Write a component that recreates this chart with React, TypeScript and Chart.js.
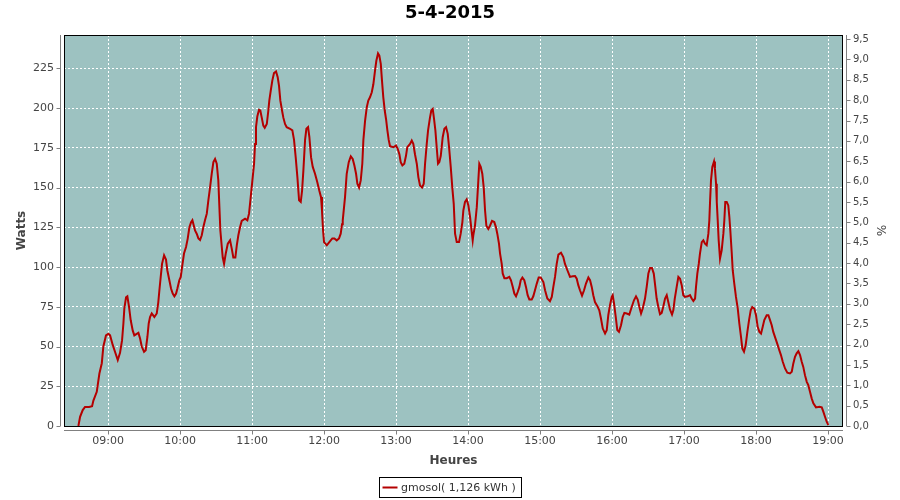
import React, { useEffect, useRef } from "react";
import { Chart, registerables } from "chart.js";

Chart.register(...registerables);

const chartTitle = "5-4-2015";
const seriesLabel = "gmosol( 1,126 kWh )";
const xTitle = "Heures";
const yTitle = "Watts";
const y2Title = "%";

// time in minutes after midnight
const times = [
  515.3, 516.7, 518.9, 520.8, 524.2, 526.7, 527.8, 530.6, 532.8, 534.8, 536.1, 538.3, 540.3, 541.7, 543.9, 545.8, 548.1, 550, 551.7, 552.8,
  553.6, 555, 556.1, 557.5, 558.9, 560.6, 561.9, 563.9, 565.3, 566.7, 568.1, 570, 571.4, 572.8, 573.9, 575, 576.4, 578.6, 580.6, 581.9,
  582.8, 583.9, 585, 586.7, 588.3, 589.4, 591.1, 592.5, 593.9, 595.3, 596.7, 597.8, 599.4, 600.6, 601.7, 603.3, 605, 606.4, 607.8, 609.2,
  610.3, 612.5, 613.9, 615.3, 616.7, 618.1, 619.4, 620.8, 622.3, 623.6, 625, 626.4, 627.8, 629.2, 630.6, 631.9, 632.8, 633.6, 634.8, 635.6,
  636.7, 638.1, 639.8, 641.7, 643.1, 644.4, 646.1, 647.3, 648.6, 650, 651.4, 654.2, 656.1, 657.5, 658.9, 660.3, 661.7, 662.5, 663.3, 664.4,
  665.8, 666.9, 668.1, 669.4, 670.6, 672.3, 673.6, 674.4, 675.6, 676.9, 678.3, 680, 681.4, 682.5, 683.6, 685, 686.1, 687.5, 688.9, 691.7,
  693.6, 695, 696.4, 697.8, 699.2, 700.6, 701.7, 702.8, 704.2, 705.3, 706.7, 707.8, 709.2, 710.6, 712.5, 714.4, 716.1, 717.5, 718.3, 719.2,
  720, 722.3, 724.4, 726.9, 728.6, 730.6, 732.5, 733.9, 735, 735.6, 737.5, 738.9, 740.6, 742.3, 743.9, 745.3, 746.7, 747.8, 749.2, 750.6,
  751.9, 752.8, 754.2, 755.6, 756.9, 758.3, 759.8, 761.1, 762.5, 763.6, 765, 766.1, 767.3, 768.3, 769.4, 770.6, 771.7, 772.8, 773.9, 775,
  777.8, 780, 781.4, 782.8, 783.9, 785.3, 786.9, 788.3, 789.4, 791.7, 793.1, 794.4, 795.8, 797.3, 798.6, 800, 801.7, 803.1, 804.2, 805.6,
  806.7, 808.3, 809.4, 810.6, 811.7, 812.8, 813.9, 815, 816.1, 817.3, 818.9, 820.3, 821.7, 823.1, 824.2, 825.6, 826.9, 828.1, 829.2, 830.6,
  832.5, 833.9, 835.3, 836.1, 837.5, 838.9, 840.3, 841.7, 843.1, 843.9, 844.4, 845.8, 847.3, 848.6, 849.4, 850.6, 851.9, 853.1, 854.2, 855.3,
  856.9, 858.3, 860, 861.9, 863.3, 864.4, 865.8, 866.7, 868.1, 868.9, 870.3, 872.3, 874.4, 875.8, 877.3, 878.6, 880, 881.4, 882.8, 883.9,
  885.3, 886.9, 888.3, 889.7, 891.1, 893.1, 894.4, 895.8, 897.3, 898.9, 900.6, 902.8, 904.2, 906.1, 908.3, 909.8, 911.1, 912.5, 913.9, 915.3,
  917.5, 919.4, 920.8, 922.8, 925, 927.3, 929.2, 930.6, 931.9, 933.3, 935, 936.7, 938.3, 940.3, 941.7, 943.1, 944.4, 945.8, 947.8, 949.4,
  950.8, 952.3, 954.2, 955.6, 956.9, 958.3, 959.8, 960.6, 961.7, 963.1, 964.4, 965.8, 967.5, 968.9, 970.3, 972.3, 974.4, 976.4, 978.3, 980,
  981.4, 982.8, 984.2, 985.6, 987.5, 988.9, 990.3, 991.7, 993.3, 994.8, 996.1, 997.2, 998.6, 1000, 1001.4, 1002.8, 1004.2, 1005.6, 1006.9, 1008.3,
  1010, 1011.1, 1012.3, 1013.9, 1015.3, 1016.7, 1018.1, 1019.4, 1020.8, 1023.1, 1025, 1026.4, 1027.8, 1029.2, 1030, 1031.1, 1032.3, 1033.3, 1034.8, 1036.1,
  1037.5, 1038.9, 1040.3, 1041.1, 1041.7, 1042.5, 1043.6, 1045, 1045.8, 1046.7, 1047.3, 1048.1, 1048.9, 1050, 1051.4, 1052.8, 1053.6, 1054.4, 1055.6, 1056.9,
  1057.8, 1058.6, 1059.8, 1060.6, 1061.9, 1063.3, 1064.8, 1066.1, 1067.5, 1068.6, 1070, 1071.4, 1072.8, 1074.2, 1075.6, 1076.9, 1078.6, 1080, 1081.4, 1082.8,
  1084.2, 1085.6, 1086.9, 1088.9, 1090.3, 1091.7, 1093.1, 1094.4, 1096.7, 1098.1, 1099.4, 1100.8, 1102.3, 1104.2, 1106.1, 1108.3, 1109.8, 1111.1, 1112.5, 1113.9,
  1115.3, 1116.7, 1118.1, 1119.4, 1120.8, 1122.3, 1123.6, 1125, 1126.4, 1127.8, 1130, 1132.8, 1134.8, 1136.1, 1137.5, 1138.9, 1140.3,
];

const watts = [
  0, 5.8, 10, 12, 12, 12.5, 16, 21.5, 33, 39.5, 50, 57, 58, 57, 51, 46.7, 41.5, 46, 54, 64.5,
  74, 81, 81.6, 75, 66.5, 60, 57, 58, 58.6, 55, 50, 46.7, 47.7, 56, 64.5, 68.6, 70.8, 68.6, 70.8, 78,
  85.4, 93.8, 102, 107.4, 104.7, 98, 91.7, 86.5, 83.3, 81.6, 83.3, 86.5, 91.7, 93.8, 100, 108.5, 112.6, 117.9, 125, 128.3,
  129.5, 123, 121, 118, 117, 120, 125, 129.4, 133.6, 142, 150, 158.7, 166, 168, 165, 154.5, 137.7, 123, 112.6, 106,
  102, 108.5, 114.7, 116.8, 111.6, 106, 106, 113.7, 120, 125, 129, 130.4, 129.4, 133.6, 144, 154.5, 165, 177.5, 188, 194.7,
  198.9, 198.5, 194, 189, 187.6, 190, 198.5, 204.7, 211, 217.3, 222, 223, 219.4, 214, 204.7, 198.5, 194, 190, 188, 187,
  186, 180, 169, 156.6, 142, 141, 148, 160.8, 180, 187, 188, 181.7, 169, 163, 158.7, 153.4, 148, 144, 135.6, 123,
  115.7, 113.7, 115.7, 118, 118, 116.8, 118, 121, 127, 129.4, 144, 158.7, 166, 169.6, 168, 163.9, 158.7, 152.4, 150, 154.5,
  165, 180, 192, 200.5, 204.7, 206.8, 210, 215, 223.6, 229.8, 234.4, 233, 227.8, 217.3, 206.8, 198.5, 193, 186, 180, 176,
  175.4, 176.5, 174.4, 171, 166, 163.9, 165, 170, 175.4, 177.5, 179.6, 177.5, 171, 165, 156.6, 151.3, 150, 152.4, 165, 177.5,
  186, 194, 198.5, 199.5, 193, 186, 175.4, 165, 166, 170, 181.7, 187, 188, 183.8, 175.4, 163, 150, 139.8, 121, 115.7,
  115.7, 121, 128.3, 135.6, 141, 142.6, 138.8, 131.5, 122, 116.8, 120, 126, 137.7, 154.5, 165, 163, 158.7, 150, 135.6, 126,
  124, 126, 129, 128.3, 125, 121, 114.7, 108.5, 102, 96, 93, 93, 93.8, 91.7, 87.5, 83.3, 81.6, 84.3, 87.5, 91.7,
  93.4, 91.7, 87.5, 82.3, 79.6, 79.6, 81.6, 85.4, 89.6, 93.4, 93.4, 90.6, 85.4, 80.2, 78.5, 81.2, 87.5, 93.8, 102, 107.8,
  109, 106.3, 102, 98, 93.8, 94.2, 94.4, 92.7, 88.6, 85.4, 82, 85.4, 89.6, 93.4, 91.7, 87.5, 82.3, 78, 75.4, 72.8,
  67.6, 61.3, 58.2, 60.3, 69.7, 76, 81.2, 82.3, 77, 68.6, 60.3, 59.2, 63.4, 68.6, 71.2, 70.8, 70.1, 74.9, 79.1, 81.6,
  79.6, 74.9, 70.8, 73.9, 80.2, 87.5, 95.9, 99.4, 99.4, 95.9, 87.5, 80.2, 74.9, 70.3, 71.2, 75.4, 80.2, 82.3, 78, 73.3,
  70.1, 72.8, 80.2, 87.5, 93.8, 92.7, 88.6, 82.3, 81.2, 81.6, 82.3, 80.2, 78.7, 80.2, 87.5, 95.9, 102, 108.5, 115.7, 116.8,
  114.7, 113.7, 121, 129.4, 141, 154.5, 163, 166.4, 161.8, 152.4, 141, 129.4, 116.8, 105.3, 110.5, 121, 129.4, 141, 141, 138.8,
  131.5, 123, 108.5, 98, 89.6, 81.2, 73.9, 64.5, 56.1, 48.8, 46.7, 50.9, 59.2, 66.6, 72.8, 74.9, 73.9, 69.7, 62.4, 59.2,
  58.2, 62.4, 66.6, 69.7, 69.7, 66.6, 63.4, 59.2, 54, 50.9, 47.7, 44.6, 40.4, 36.2, 33.5, 33.1, 34.1, 39.4, 43.5, 45.7,
  47.1, 44.6, 40.4, 37.2, 32, 27.8, 25.7, 21.5, 17.4, 14.3, 11.7, 12.1, 11.7, 9, 5.8, 2.7, 0.6,
];

const hourTicks = [540, 600, 660, 720, 780, 840, 900, 960, 1020, 1080, 1140];
const hourLabels = ["09:00", "10:00", "11:00", "12:00", "13:00", "14:00", "15:00", "16:00", "17:00", "18:00", "19:00"];
const wattTicks = [0, 25, 50, 75, 100, 125, 150, 175, 200, 225];
const pctTicks = [0, 0.5, 1, 1.5, 2, 2.5, 3, 3.5, 4, 4.5, 5, 5.5, 6, 6.5, 7, 7.5, 8, 8.5, 9, 9.5];
const pctLabels = ["0,0", "0,5", "1,0", "1,5", "2,0", "2,5", "3,0", "3,5", "4,0", "4,5", "5,0", "5,5", "6,0", "6,5", "7,0", "7,5", "8,0", "8,5", "9,0", "9,5"];

const X_MIN = 503.3;
const X_MAX = 1152.5;
const Y_MAX = 246;
const Y2_MAX = 9.6;

const FONT = "'DejaVu Sans', sans-serif";
const PLOT_BG = "#9dc2c1";
const LINE_COLOR = "#b40000";
const AXIS_GREY = "#808080";
const TEXT_GREY = "#444444";

const framePlugin = {
  id: "frame",
  beforeDraw(chart: any) {
    const { ctx, chartArea: a } = chart;
    ctx.save();
    ctx.fillStyle = "#ffffff";
    ctx.fillRect(0, 0, chart.width, chart.height);
    ctx.fillStyle = PLOT_BG;
    ctx.fillRect(a.left, a.top, a.right - a.left, a.bottom - a.top);
    ctx.restore();
  },
  afterDatasetsDraw(chart: any) {
    const { ctx, chartArea: a, scales } = chart;
    ctx.save();
    // plot frame
    ctx.strokeStyle = "#000";
    ctx.lineWidth = 1;
    ctx.strokeRect(a.left + 0.5, a.top + 0.5, a.right - a.left - 1, a.bottom - a.top);
    // offset axis lines
    ctx.strokeStyle = AXIS_GREY;
    ctx.beginPath();
    const lx = a.left - 3.5;
    ctx.moveTo(lx, a.top);
    ctx.lineTo(lx, a.bottom);
    for (const t of scales.y.ticks) {
      const p = Math.round(scales.y.getPixelForValue(t.value)) + 0.5;
      ctx.moveTo(lx - 4, p);
      ctx.lineTo(lx, p);
    }
    const rx = a.right + 3.5;
    ctx.moveTo(rx, a.top);
    ctx.lineTo(rx, a.bottom);
    for (const t of scales.y1.ticks) {
      const p = Math.round(scales.y1.getPixelForValue(t.value)) + 0.5;
      ctx.moveTo(rx, p);
      ctx.lineTo(rx + 4, p);
    }
    const by = a.bottom + 4.5;
    ctx.moveTo(a.left, by);
    ctx.lineTo(a.right, by);
    for (const t of scales.x.ticks) {
      const p = Math.round(scales.x.getPixelForValue(t.value)) + 0.5;
      ctx.moveTo(p, by);
      ctx.lineTo(p, by + 4);
    }
    ctx.stroke();
    ctx.restore();
  },
  afterDraw(chart: any) {
    const { ctx } = chart;
    ctx.save();
    ctx.font = "11px " + FONT;
    const tw = ctx.measureText(seriesLabel).width;
    const w = Math.round(3 + 15 + 4 + tw + 5);
    const h = 20;
    const x0 = Math.round(chart.width / 2 - w / 2) + 0.5;
    const y0 = chart.chartArea.bottom + 51.5;
    ctx.strokeStyle = "#000";
    ctx.lineWidth = 1;
    ctx.strokeRect(x0, y0, w, h);
    ctx.strokeStyle = LINE_COLOR;
    ctx.lineWidth = 2;
    ctx.beginPath();
    ctx.moveTo(x0 + 3, y0 + h / 2);
    ctx.lineTo(x0 + 18, y0 + h / 2);
    ctx.stroke();
    ctx.fillStyle = "#333";
    ctx.textBaseline = "middle";
    ctx.textAlign = "left";
    ctx.fillText(seriesLabel, x0 + 21.5, y0 + h / 2 + 0.5);
    ctx.restore();
  },
};

export default function App() {
  const ref = useRef<HTMLCanvasElement | null>(null);

  useEffect(() => {
    if (!ref.current) return;
    const chart = new Chart(ref.current, {
      type: "line",
      data: {
        datasets: [
          {
            label: seriesLabel,
            data: times.map((t, i) => ({ x: t, y: watts[i] })),
            borderColor: LINE_COLOR,
            backgroundColor: LINE_COLOR,
            borderWidth: 2,
            pointRadius: 0,
            tension: 0,
            fill: false,
            yAxisID: "y",
          },
        ],
      },
      options: {
        animation: false,
        responsive: false,
        events: [],
        layout: { padding: { left: 0, right: 0, top: 0, bottom: 30 } },
        plugins: {
          legend: { display: false },
          tooltip: { enabled: false },
          title: {
            display: true,
            text: chartTitle,
            color: "#000",
            font: { family: FONT, size: 18, weight: "bold" },
            padding: { top: 3, bottom: 10.4 },
          },
        },
        scales: {
          x: {
            type: "linear",
            min: X_MIN,
            max: X_MAX,
            afterBuildTicks: (s: any) => {
              s.ticks = hourTicks.map((v) => ({ value: v }));
            },
            afterFit: (s: any) => {
              s.height = 44;
            },
            ticks: {
              autoSkip: false,
              maxRotation: 0,
              padding: 9,
              color: TEXT_GREY,
              font: { family: FONT, size: 11 },
              callback: (v: any) => hourLabels[hourTicks.indexOf(Number(v))],
            },
            grid: { color: "#ffffff", lineWidth: 1, drawTicks: false, borderDash: [2, 2] } as any,
            border: { display: false, dash: [2, 2] },
            title: {
              display: true,
              text: xTitle,
              color: TEXT_GREY,
              font: { family: FONT, size: 12, weight: "bold" },
              padding: { top: 0, bottom: 2 },
            },
          },
          y: {
            type: "linear",
            position: "left",
            min: 0,
            max: Y_MAX,
            afterBuildTicks: (s: any) => {
              s.ticks = wattTicks.map((v) => ({ value: v }));
            },
            afterFit: (s: any) => {
              s.width = 64;
            },
            ticks: {
              padding: 10,
              color: TEXT_GREY,
              font: { family: FONT, size: 11 },
              callback: (v: any) => String(v),
            },
            grid: { color: "#ffffff", lineWidth: 1, drawTicks: false, borderDash: [2, 2] } as any,
            border: { display: false, dash: [2, 2] },
            title: {
              display: true,
              text: yTitle,
              color: TEXT_GREY,
              font: { family: FONT, size: 12, weight: "bold" },
              padding: { top: 15, bottom: 0 },
            },
          },
          y1: {
            type: "linear",
            position: "right",
            min: 0,
            max: Y2_MAX,
            afterBuildTicks: (s: any) => {
              s.ticks = pctTicks.map((v) => ({ value: v }));
            },
            afterFit: (s: any) => {
              s.width = 57;
            },
            ticks: {
              padding: 10,
              color: TEXT_GREY,
              font: { family: FONT, size: 10 },
              callback: (v: any) => pctLabels[pctTicks.indexOf(Number(v))],
            },
            grid: { drawOnChartArea: false, drawTicks: false },
            border: { display: false },
            title: {
              display: true,
              text: y2Title,
              color: TEXT_GREY,
              font: { family: FONT, size: 12 },
              padding: { top: 13, bottom: 0 },
            },
          },
        },
      },
      plugins: [framePlugin],
    } as any);
    return () => chart.destroy();
  }, []);

  return (
    <div style={{ position: "absolute", left: 0, top: 0, width: 900, height: 500, background: "#fff" }}>
      <canvas ref={ref} width={900} height={500} style={{ display: "block" }} />
    </div>
  );
}
